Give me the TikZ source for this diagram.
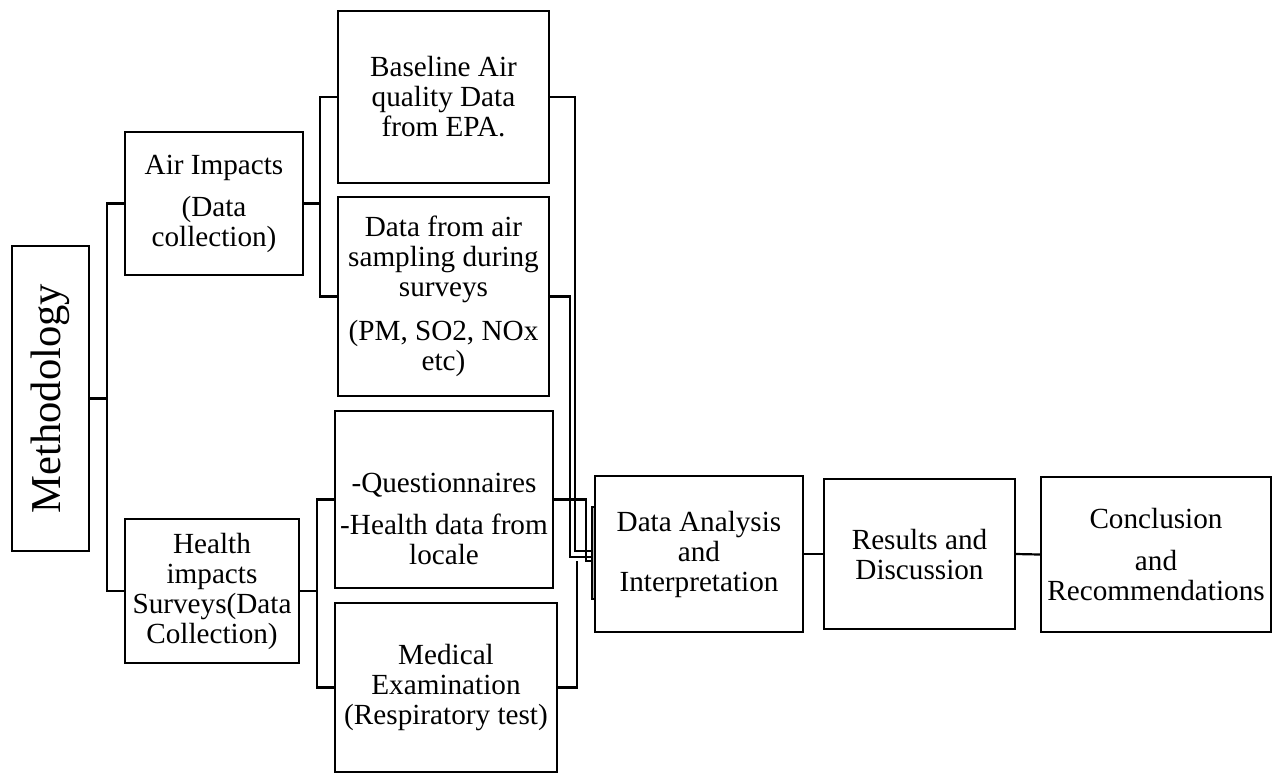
\documentclass[tikz,border=0pt]{standalone}
\usepackage{fontspec}
\setmainfont{Liberation Serif}
\usetikzlibrary{positioning}

\begin{document}
\begin{tikzpicture}[
x=0.5pt,y=-0.5pt,
blk/.style={
  draw,
  line width=1.2pt,
  align=center,
  inner sep=0pt,
  font=\fontsize{14.6}{15}\selectfont
  },
wire/.style={
  draw,
  line width=1.1pt
  },
seamstyle/.style={
  draw,
  fill=gray!55,
  line width=0.6pt,
  inner sep=0pt
  }
]
\useasboundingbox (0,0) rectangle (1272,773);

% first column
\node[blk,rotate=90,minimum width=152.5pt,minimum height=38.5pt,
  font=\fontsize{21.3}{24}\selectfont] (meth) at (50.5,398.5) {Methodology};
\node[blk,minimum width=89pt,minimum height=71.5pt] (air) at (214,203.5)
  {Air Impacts\\[6pt] (Data\\ collection)};
\node[blk,minimum width=87pt,minimum height=72pt] (health) at (212,591)
  {Health\\ impacts\\ Surveys(Data\\ Collection)};

% data sources
\node[blk,minimum width=105.5pt,minimum height=86pt] (base) at (443.5,97)
  {Baseline Air\\ quality Data\\ from EPA.};
\node[blk,minimum width=105.5pt,minimum height=99.5pt] (samp) at (443.5,296.5)
  {Data from air\\ sampling during\\ surveys\\[7pt] (PM, SO2, NOx\\ etc)};
\node[blk,minimum width=109pt,minimum height=88.5pt] (quest) at (444,499.5)
  {\mbox{}\\[14pt] -Questionnaires\\[6pt] -Health data from\\ locale};
\node[blk,minimum width=111pt,minimum height=84.5pt] (med) at (446,687.5)
  {Medical\\ Examination\\ (Respiratory test)};

% last row
\node[blk,minimum width=104pt,minimum height=78pt] (anal) at (699,554)
  {Data Analysis\\ and\\ Interpretation};
\node[blk,minimum width=95.5pt,minimum height=75pt] (res) at (919.5,554)
  {Results and\\ Discussion};
\node[blk,minimum width=115pt,minimum height=77.5pt] (concl) at (1156,554.5)
  {Conclusion\\[6pt] and\\ Recommendations};
\node[seamstyle,minimum width=1.5pt,minimum height=46pt] (seam) at (593.5,553) {};

% trunks
\coordinate (tr) at (107,398.5);
\coordinate (ab) at (320,0);
\coordinate (hb) at (317,0);
\draw[wire] (meth.south) -- (tr);
\draw[wire] (air.west) -| (tr) |- (health.west);
\draw[wire] (air.east) -- (ab |- air.east);
\draw[wire] (base.west) -| (ab |- air.east) |- (samp.west);
\draw[wire] (health.east) -- (hb |- health.east);
\draw[wire] (quest.west) -| (hb |- health.east) |- (med.west);

% into the analysis
\coordinate (b1) at (575,551);
\coordinate (s1) at (570,557);
\coordinate (q1) at (586,561);
\coordinate (m1) at (577,561);
\draw[wire] (base.east) -| (b1) -- (b1 -| seam.west);
\draw[wire] (samp.east) -| (s1) -- (s1 -| seam.west);
\draw[wire] (quest.east) -| (q1) -- (q1 -| seam.west);
\draw[wire] (med.east) -| (m1);

\draw[wire] (anal.east) -- (res.west);
\draw[wire] (res.east) -- (concl.west);

\end{tikzpicture}
\end{document}
